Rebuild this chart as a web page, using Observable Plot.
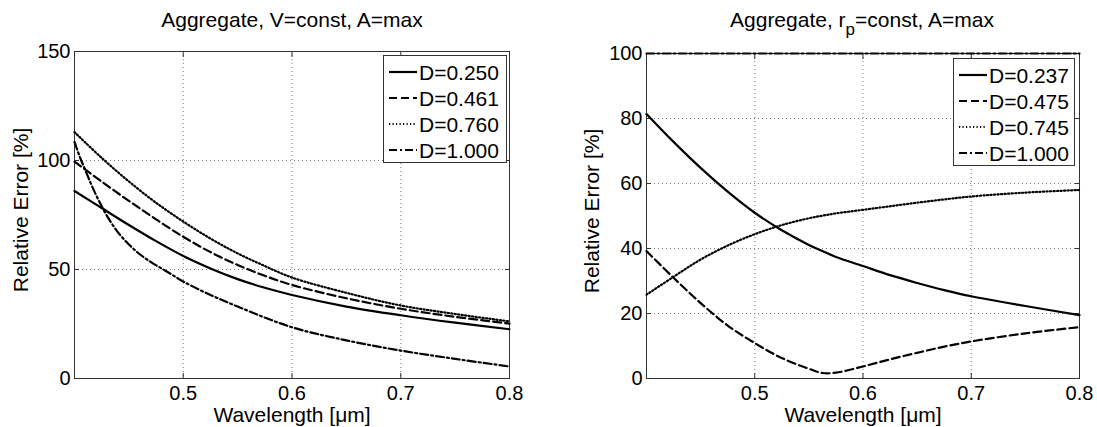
<!DOCTYPE html>
<html><head><meta charset="utf-8">
<script src="https://cdn.jsdelivr.net/npm/d3@7"></script>
<script src="https://cdn.jsdelivr.net/npm/@observablehq/plot@0.6"></script>
<style>
body{margin:0;background:#fff;}
#fig{position:relative;width:1097px;height:427px;font-family:"Liberation Sans",Arial,sans-serif;color:#000;overflow:hidden;}
.panel{position:absolute;top:0;}
.title{position:absolute;font-size:21px;white-space:nowrap;transform:translateX(-50%);line-height:1;}
.title sub{font-size:17px;vertical-align:-8px;line-height:1;}
.legend{position:absolute;background:#fff;border:1px solid #333;font-size:21px;box-sizing:border-box;padding-top:3px;line-height:1;}
.legend .row{display:flex;align-items:center;height:26px;}
.legend svg{display:block;margin-left:5px;margin-right:2px;}
</style></head><body><div id="fig"></div>
<script>
// ---------- data ----------
const xTicks = [0.5, 0.6, 0.7, 0.8];

// left panel: Aggregate, V=const, A=max
const titleLeft = "Aggregate, V=const, A=max";
const wlLeft = [0.40, 0.425, 0.45, 0.475, 0.50, 0.525, 0.55, 0.575, 0.60, 0.65, 0.70, 0.75, 0.80];
const d250 = [86, 78.2, 70.4, 63.0, 56.2, 50.5, 45.6, 41.6, 38.3, 33.0, 29.0, 25.6, 22.6];
const d461 = [99.5, 90.3, 81.5, 73.0, 65.0, 58.0, 52.1, 47.1, 42.9, 36.8, 32.0, 28.3, 25.2];
const d760 = [113, 101.2, 90.4, 80.6, 72.0, 64.2, 57.4, 51.6, 46.3, 39.3, 33.5, 29.6, 26.2];
const wlLeftFine = [0.40, 0.405, 0.41, 0.415, 0.42, 0.425, 0.43, 0.44, 0.45, 0.46, 0.47, 0.48, 0.49, 0.50, 0.52, 0.55, 0.60, 0.65, 0.70, 0.75, 0.80];
const d1000L = [108.5, 101.5, 95.5, 89.5, 84, 79, 74.5, 67, 61.5, 57, 53.5, 50.5, 47.5, 44.5, 39.5, 33, 23.5, 17.5, 12.8, 9, 5.5];
const yTicksLeft = [0, 50, 100, 150];
const legendLeft = ["D=0.250", "D=0.461", "D=0.760", "D=1.000"];

// right panel: Aggregate, r_p=const, A=max
const wlRight = [0.40, 0.425, 0.45, 0.475, 0.50, 0.525, 0.55, 0.5625, 0.575, 0.60, 0.625, 0.65, 0.675, 0.70, 0.75, 0.80];
const d237 = [81.4, 72.8, 64.8, 57.5, 51.0, 45.6, 41.1, 39.2, 37.4, 34.6, 31.8, 29.4, 27.2, 25.3, 22.3, 19.5];
const d475 = [39.2, 31.0, 23.2, 16.3, 10.9, 6.3, 3.0, 1.7, 1.8, 3.7, 5.9, 7.9, 9.8, 11.4, 13.9, 15.8];
const d745 = [25.8, 31.3, 36.6, 40.9, 44.4, 47.2, 49.3, 50.1, 50.8, 51.9, 53, 54.1, 55.1, 56, 57.2, 58];
const d1000R = [100, 100, 100, 100, 100, 100, 100, 100, 100, 100, 100, 100, 100, 100, 100, 100];
const yTicksRight = [0, 20, 40, 60, 80, 100];
const legendRight = ["D=0.237", "D=0.475", "D=0.745", "D=1.000"];

const xLabel = "Wavelength [μm]";
const yLabel = "Relative Error [%]";

// ---------- styles ----------
const dashes = [null, "8,4", "1.2,2.3", "8,3,2,3"];
const FONT = '"Liberation Sans", Arial, sans-serif';

function rows(xs, ys) { return xs.map((x, i) => ({x, y: ys[i]})); }

function panel({width, ml, mr, mt, mb, yDomain, yTicks, series, ylabDx}) {
  const gridStyle = {stroke: "#7a7a7a", strokeOpacity: 1, strokeWidth: 1, strokeDasharray: "1,3"};
  return Plot.plot({
    width, height: 427,
    marginLeft: ml, marginRight: mr, marginTop: mt, marginBottom: mb,
    style: {fontFamily: FONT, fontSize: "20px", background: "transparent", overflow: "visible", color: "#000"},
    x: {domain: [0.4, 0.8]},
    y: {domain: yDomain},
    marks: [
      Plot.gridX(xTicks, gridStyle),
      Plot.gridY(yTicks, gridStyle),
      Plot.frame({stroke: "#333"}),
      Plot.axisX(xTicks, {anchor: "bottom", tickSize: -5, tickPadding: 12, stroke: "#333", tickFormat: d3.format(".1f"), label: null, fontSize: 20, fill: "#000"}),
      Plot.axisX(xTicks, {anchor: "top", tickSize: -5, stroke: "#333", fill: "none", label: null}),
      Plot.axisY(yTicks, {anchor: "left", tickSize: -5, tickPadding: 9, stroke: "#333", label: null, fontSize: 20, fill: "#000"}),
      Plot.axisY(yTicks, {anchor: "right", tickSize: -5, stroke: "#333", fill: "none", label: null}),
      ...series.map((s, i) => Plot.line(rows(s.x, s.y), {x: "x", y: "y", stroke: "#000", strokeWidth: 2.2, strokeDasharray: dashes[i], curve: "catmull-rom"})),
      Plot.text([xLabel], {frameAnchor: "bottom", lineAnchor: "middle", dy: 37, fontSize: 21, fill: "#000"}),
      Plot.text([yLabel], {frameAnchor: "left", textAnchor: "middle", lineAnchor: "middle", rotate: -90, dx: ylabDx, dy: -5, fontSize: 21, fill: "#000"})
    ]
  });
}

const fig = document.getElementById("fig");

function place(node, left) {
  node.classList.add("panel");
  node.style.left = left + "px";
  fig.appendChild(node);
}

place(panel({
  width: 548, ml: 74, mr: 39, mt: 51, mb: 49,
  yDomain: [0, 150], yTicks: yTicksLeft, ylabDx: -53,
  series: [{x: wlLeft, y: d250}, {x: wlLeft, y: d461}, {x: wlLeft, y: d760}, {x: wlLeftFine, y: d1000L}]
}), 0);

place(panel({
  width: 549, ml: 98, mr: 18, mt: 53, mb: 49,
  yDomain: [0, 100], yTicks: yTicksRight, ylabDx: -54,
  series: [{x: wlRight, y: d237}, {x: wlRight, y: d475}, {x: wlRight, y: d745}, {x: wlRight, y: d1000R}]
}), 548);

// titles
function title(html, cx) {
  const d = document.createElement("div");
  d.className = "title";
  d.innerHTML = html;
  d.style.left = cx + "px";
  d.style.top = "9px";
  fig.appendChild(d);
}
title(titleLeft, 292);
title("Aggregate, r<sub>p</sub>=const, A=max", 862);

// legends
function legend(labels, left, top, width) {
  const box = document.createElement("div");
  box.className = "legend";
  box.style.left = left + "px";
  box.style.top = top + "px";
  box.style.width = width + "px";
  box.style.height = "108px";
  labels.forEach((lab, i) => {
    const r = document.createElement("div");
    r.className = "row";
    const ns = "http://www.w3.org/2000/svg";
    const svg = document.createElementNS(ns, "svg");
    svg.setAttribute("width", 28); svg.setAttribute("height", 10);
    const ln = document.createElementNS(ns, "line");
    ln.setAttribute("x1", 0); ln.setAttribute("x2", 28);
    ln.setAttribute("y1", 5); ln.setAttribute("y2", 5);
    ln.setAttribute("stroke", "#000"); ln.setAttribute("stroke-width", 2.2);
    if (dashes[i]) ln.setAttribute("stroke-dasharray", dashes[i]);
    svg.appendChild(ln);
    r.appendChild(svg);
    const t = document.createElement("span");
    t.textContent = lab;
    r.appendChild(t);
    box.appendChild(r);
  });
  fig.appendChild(box);
}
legend(legendLeft, 383, 55, 124);
legend(legendRight, 953, 58, 122);
</script></body></html>
